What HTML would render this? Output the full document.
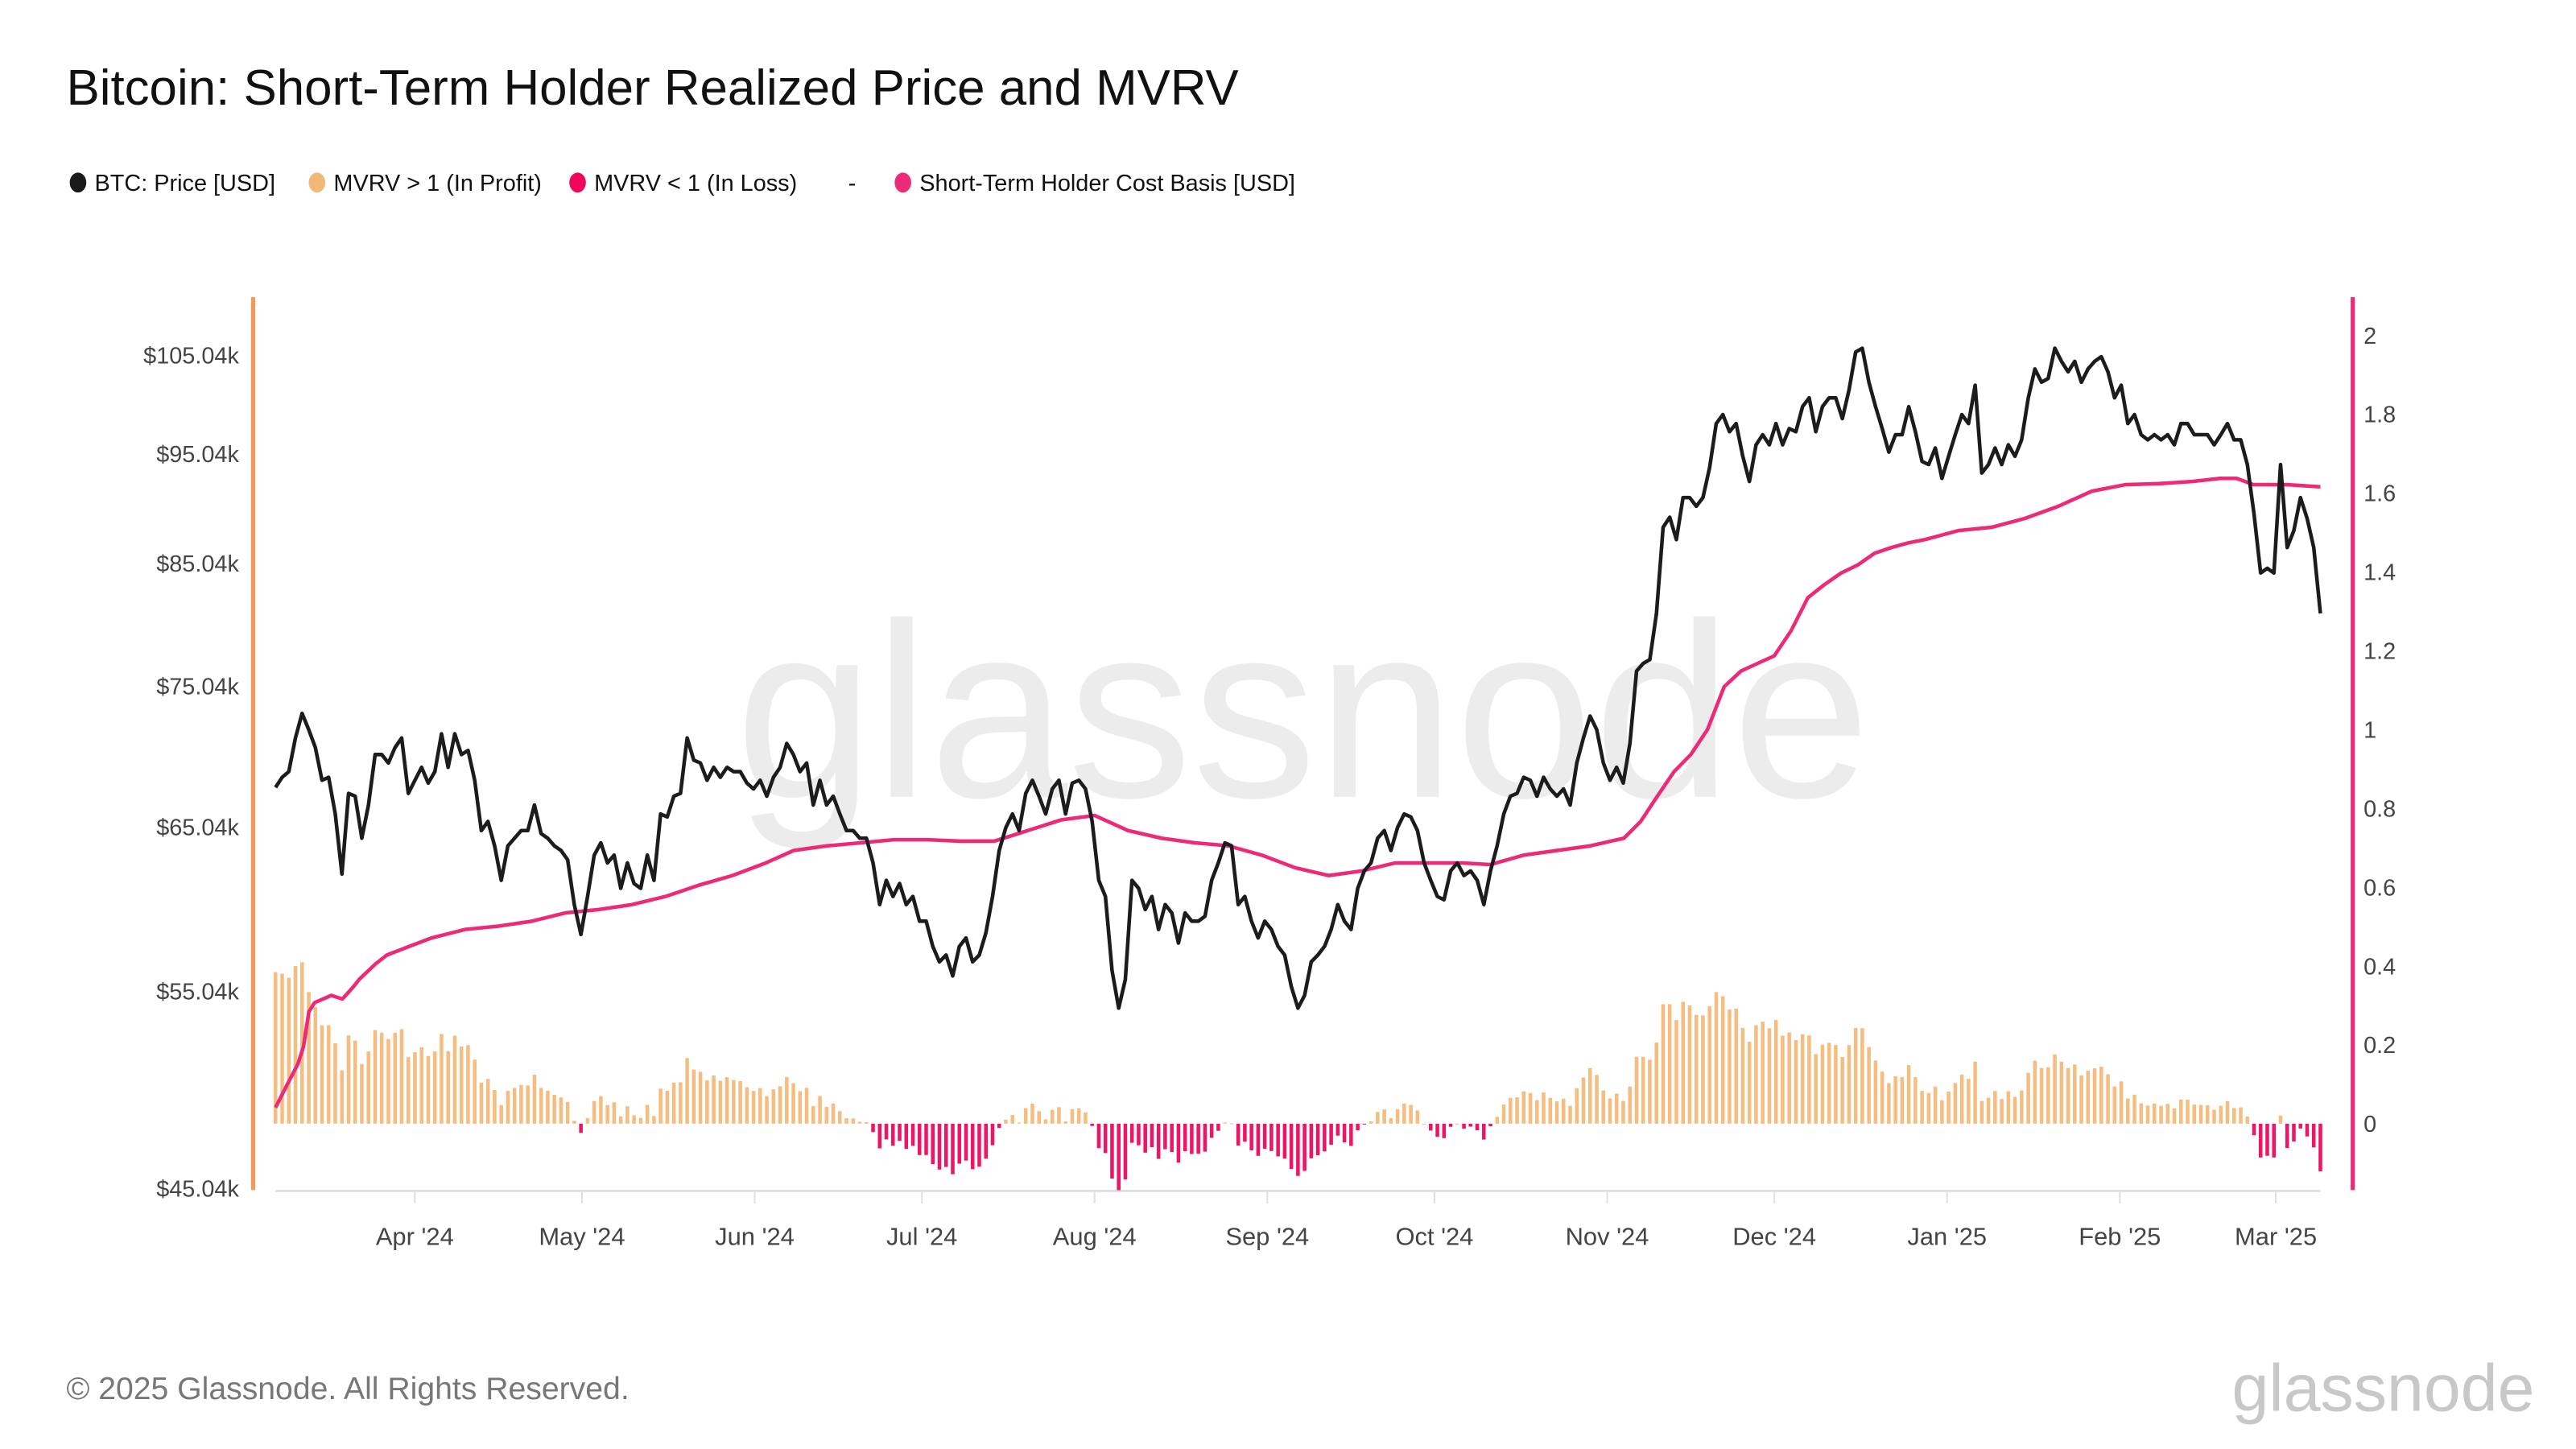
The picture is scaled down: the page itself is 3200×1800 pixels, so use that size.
<!DOCTYPE html>
<html><head><meta charset="utf-8"><style>
html,body{margin:0;padding:0;background:#fff;}
svg{display:block;font-family:"Liberation Sans",Arial,sans-serif;}
</style></head><body>
<svg id="chart" width="3200" height="1800" viewBox="0 0 1552 873" xmlns="http://www.w3.org/2000/svg">
<rect x="0" y="0" width="1552" height="873" fill="#fff"/>
<text x="40" y="63" font-size="30" fill="#111">Bitcoin: Short-Term Holder Realized Price and MVRV</text>
<g font-size="14" fill="#111">
 <g><ellipse cx="47" cy="110" rx="5" ry="6" fill="#1a1a1a"/><text x="57" y="115">BTC: Price [USD]</text></g>
 <g><ellipse cx="191" cy="110" rx="5" ry="6" fill="#f2b878"/><text x="201" y="115">MVRV &gt; 1 (In Profit)</text></g>
 <g><ellipse cx="348" cy="110" rx="5" ry="6" fill="#f0075a"/><text x="358" y="115">MVRV &lt; 1 (In Loss)</text></g>
 <text x="511" y="115">-</text>
 <g><ellipse cx="544" cy="110" rx="5" ry="6" fill="#ec2a78"/><text x="554" y="115">Short-Term Holder Cost Basis [USD]</text></g>
</g>
<text x="785" y="480" font-size="150" fill="#ececec" text-anchor="middle">glassnode</text>
<g id="plot"></g>
<text x="40" y="843" font-size="19" fill="#777">© 2025 Glassnode. All Rights Reserved.</text>
<text x="1527" y="850" font-size="40" fill="#c8c8c8" text-anchor="end">glassnode</text>
</svg>
<script>
const monthLabels=["Apr '24","May '24","Jun '24","Jul '24","Aug '24","Sep '24","Oct '24","Nov '24","Dec '24","Jan '25","Feb '25","Mar '25"];
const monthDays=[25,55,86,116,147,178,208,239,269,300,331,359];
const leftTicks=[45.04,55.04,65.04,75.04,85.04,95.04,105.04];
const rightTicks=[0,0.2,0.4,0.6,0.8,1,1.2,1.4,1.6,1.8,2];
const totalDays=367;
// BTC price in k USD, evenly spaced Mar 7 2024 -> Mar 9 2025
const price=[67.7,68.4,68.8,71.2,73.0,71.8,70.5,68.2,68.4,65.9,62.0,67.3,67.1,64.3,66.5,70.0,70.0,69.4,70.5,71.2,67.3,68.2,69.1,68.0,68.8,71.5,69.1,71.5,70.0,70.3,68.2,64.8,65.4,63.8,61.6,63.8,64.3,64.8,64.8,66.5,64.6,64.3,63.8,63.5,62.9,60.1,58.3,60.6,63.2,64.0,62.7,63.2,61.1,62.7,61.4,61.1,63.2,61.6,65.9,65.7,67.1,67.3,71.2,69.6,69.4,68.2,69.1,68.4,69.1,68.8,68.8,68.0,67.6,68.2,67.1,68.4,69.1,70.8,70.0,68.8,69.4,66.5,68.2,66.5,67.1,65.9,64.8,64.8,64.3,64.3,62.7,60.1,61.6,60.6,61.4,60.1,60.6,59.1,59.1,57.6,56.7,57.1,55.9,57.6,58.1,56.7,57.1,58.4,60.6,63.5,65.0,65.9,64.8,67.3,68.2,67.1,65.9,67.6,68.2,65.9,68.0,68.2,67.6,65.4,61.6,60.6,56.2,54.1,55.7,61.6,61.1,59.8,60.6,58.6,60.1,59.6,57.8,59.6,59.1,59.1,59.4,61.6,62.7,64.0,63.8,60.1,60.6,59.1,58.1,59.1,58.6,57.6,57.1,55.3,54.1,54.8,56.7,57.1,57.6,58.6,60.1,59.1,58.6,61.1,62.2,62.7,64.3,64.8,63.5,65.0,65.9,65.7,64.8,62.7,61.6,60.6,60.4,62.2,62.7,61.9,62.2,61.6,60.1,62.2,63.8,65.9,67.1,67.3,68.4,68.2,67.1,68.4,67.6,67.1,67.6,66.5,69.4,71.2,72.8,71.8,69.4,68.2,69.1,68.0,70.8,76.2,76.8,77.1,80.8,88.2,89.1,87.1,90.9,90.9,90.1,90.9,93.7,98.0,98.9,97.2,98.0,94.8,92.4,95.9,96.9,95.9,98.0,95.9,97.5,97.2,99.7,100.6,97.2,99.7,100.6,100.6,98.5,101.4,105.4,105.8,102.2,99.7,97.5,95.2,96.9,96.9,99.7,97.2,94.3,94.0,95.6,92.7,94.8,96.9,98.9,98.0,101.9,93.2,94.0,95.6,94.0,95.9,94.8,96.4,100.6,103.6,102.2,102.6,105.8,104.4,103.3,104.4,102.2,103.6,104.4,104.9,103.3,100.6,101.9,98.0,98.9,96.9,96.4,96.9,96.4,96.9,95.9,98.0,98.0,96.9,96.9,96.9,95.9,96.9,98.0,96.4,96.4,94.0,89.4,84.2,84.6,84.2,94.0,86.4,87.9,90.9,89.0,86.4,80.8];
// STH cost basis (k USD) at day offsets
const costDays=[0,2,4,5,6,7,10,12,14,15,18,20,24,28,34,40,46,52,58,64,70,76,82,88,93,99,105,111,117,123,129,135,141,147,153,159,165,171,177,183,189,195,201,207,213,218,224,230,236,242,245,248,251,254,257,260,263,266,269,272,275,278,281,284,287,290,293,296,302,308,314,320,326,332,338,344,349,352,355,361,367];
const costVals=[48.9,50.0,51.1,52.0,53.9,54.4,54.8,54.6,55.3,55.7,56.6,57.1,57.6,58.1,58.6,58.8,59.1,59.6,59.8,60.1,60.6,61.3,61.9,62.7,63.5,63.8,64.0,64.2,64.2,64.1,64.1,64.8,65.5,65.8,64.8,64.3,64.0,63.8,63.2,62.4,61.9,62.2,62.7,62.7,62.7,62.6,63.2,63.5,63.8,64.3,65.4,67.1,68.8,70.0,71.8,75.0,76.2,76.8,77.4,79.4,82.1,83.2,84.2,84.9,85.9,86.4,86.8,87.1,87.9,88.2,89.0,90.1,91.5,92.1,92.2,92.4,92.7,92.7,92.1,92.1,91.9];

const NS="http://www.w3.org/2000/svg";
const plot=document.getElementById('plot');
const X0=166,X1=1398;
function xS(d){return X0+d*(X1-X0)/totalDays;}
function yL(p){return 716-1364.8*Math.log10(p/45.04);}
function yR(v){return 677-v*237.5;}
function mk(tag,attrs,parent){const e=document.createElementNS(NS,tag);for(const k in attrs)e.setAttribute(k,attrs[k]);(parent||plot).appendChild(e);return e;}
function costAt(d){
  for(let j=0;j<costDays.length-1;j++){
    if(d<=costDays[j+1]){const t=(d-costDays[j])/(costDays[j+1]-costDays[j]);return costVals[j]+t*(costVals[j+1]-costVals[j]);}
  }
  return costVals[costVals.length-1];
}
const n=price.length;
function dayOf(i){return i*totalDays/(n-1);}

let a=mk('line',{x1:166,y1:717.5,x2:1398,y2:717.5,stroke:'#e0e0e0','stroke-width':1.5});


monthDays.forEach((d,i)=>{
  const t=mk('line',{x1:xS(d),y1:718,x2:xS(d),y2:725,stroke:'#e0e0e0','stroke-width':1});
  
  
  const l=mk('text',{x:xS(d),y:750,'font-size':15,fill:'#444','text-anchor':'middle'});
  l.textContent=monthLabels[i];
  
  
});
a=mk('line',{x1:152.5,y1:179,x2:152.5,y2:717,stroke:'#f39a55','stroke-width':2.5});


a=mk('line',{x1:1417.5,y1:179,x2:1417.5,y2:717,stroke:'#ec2a78','stroke-width':2.5});


leftTicks.forEach(v=>{
  const l=mk('text',{x:144,y:yL(v)+5,'font-size':14,fill:'#444','text-anchor':'end'});
  l.textContent='$'+v.toFixed(2)+'k';
  
  
});
rightTicks.forEach(v=>{
  const l=mk('text',{x:1424,y:yR(v)+5,'font-size':14,fill:'#444'});
  l.textContent=String(v);
  
  
});

const bw=2.2;
price.forEach((p,i)=>{
  const d=dayOf(i);const v=p/costAt(d)-1;
  const x=xS(d);const y0=yR(0),y1=yR(v);
  const r=mk('rect',{x:x-bw/2,y:Math.min(y0,y1),width:bw,height:Math.max(0.5,Math.abs(y1-y0)),fill:v>=0?'#f5bd80':'#ee1566'});
  
  
});
let pts=costDays.map((d,j)=>xS(d).toFixed(1)+','+yL(costVals[j]).toFixed(1)).join(' ');
a=mk('polyline',{points:pts,fill:'none',stroke:'#ec2a78','stroke-width':2.2,'stroke-linejoin':'round'});


pts=price.map((p,i)=>xS(dayOf(i)).toFixed(1)+','+yL(p).toFixed(1)).join(' ');
a=mk('polyline',{points:pts,fill:'none',stroke:'#1c1c1c','stroke-width':2.2,'stroke-linejoin':'round'});


</script>
</body></html>
